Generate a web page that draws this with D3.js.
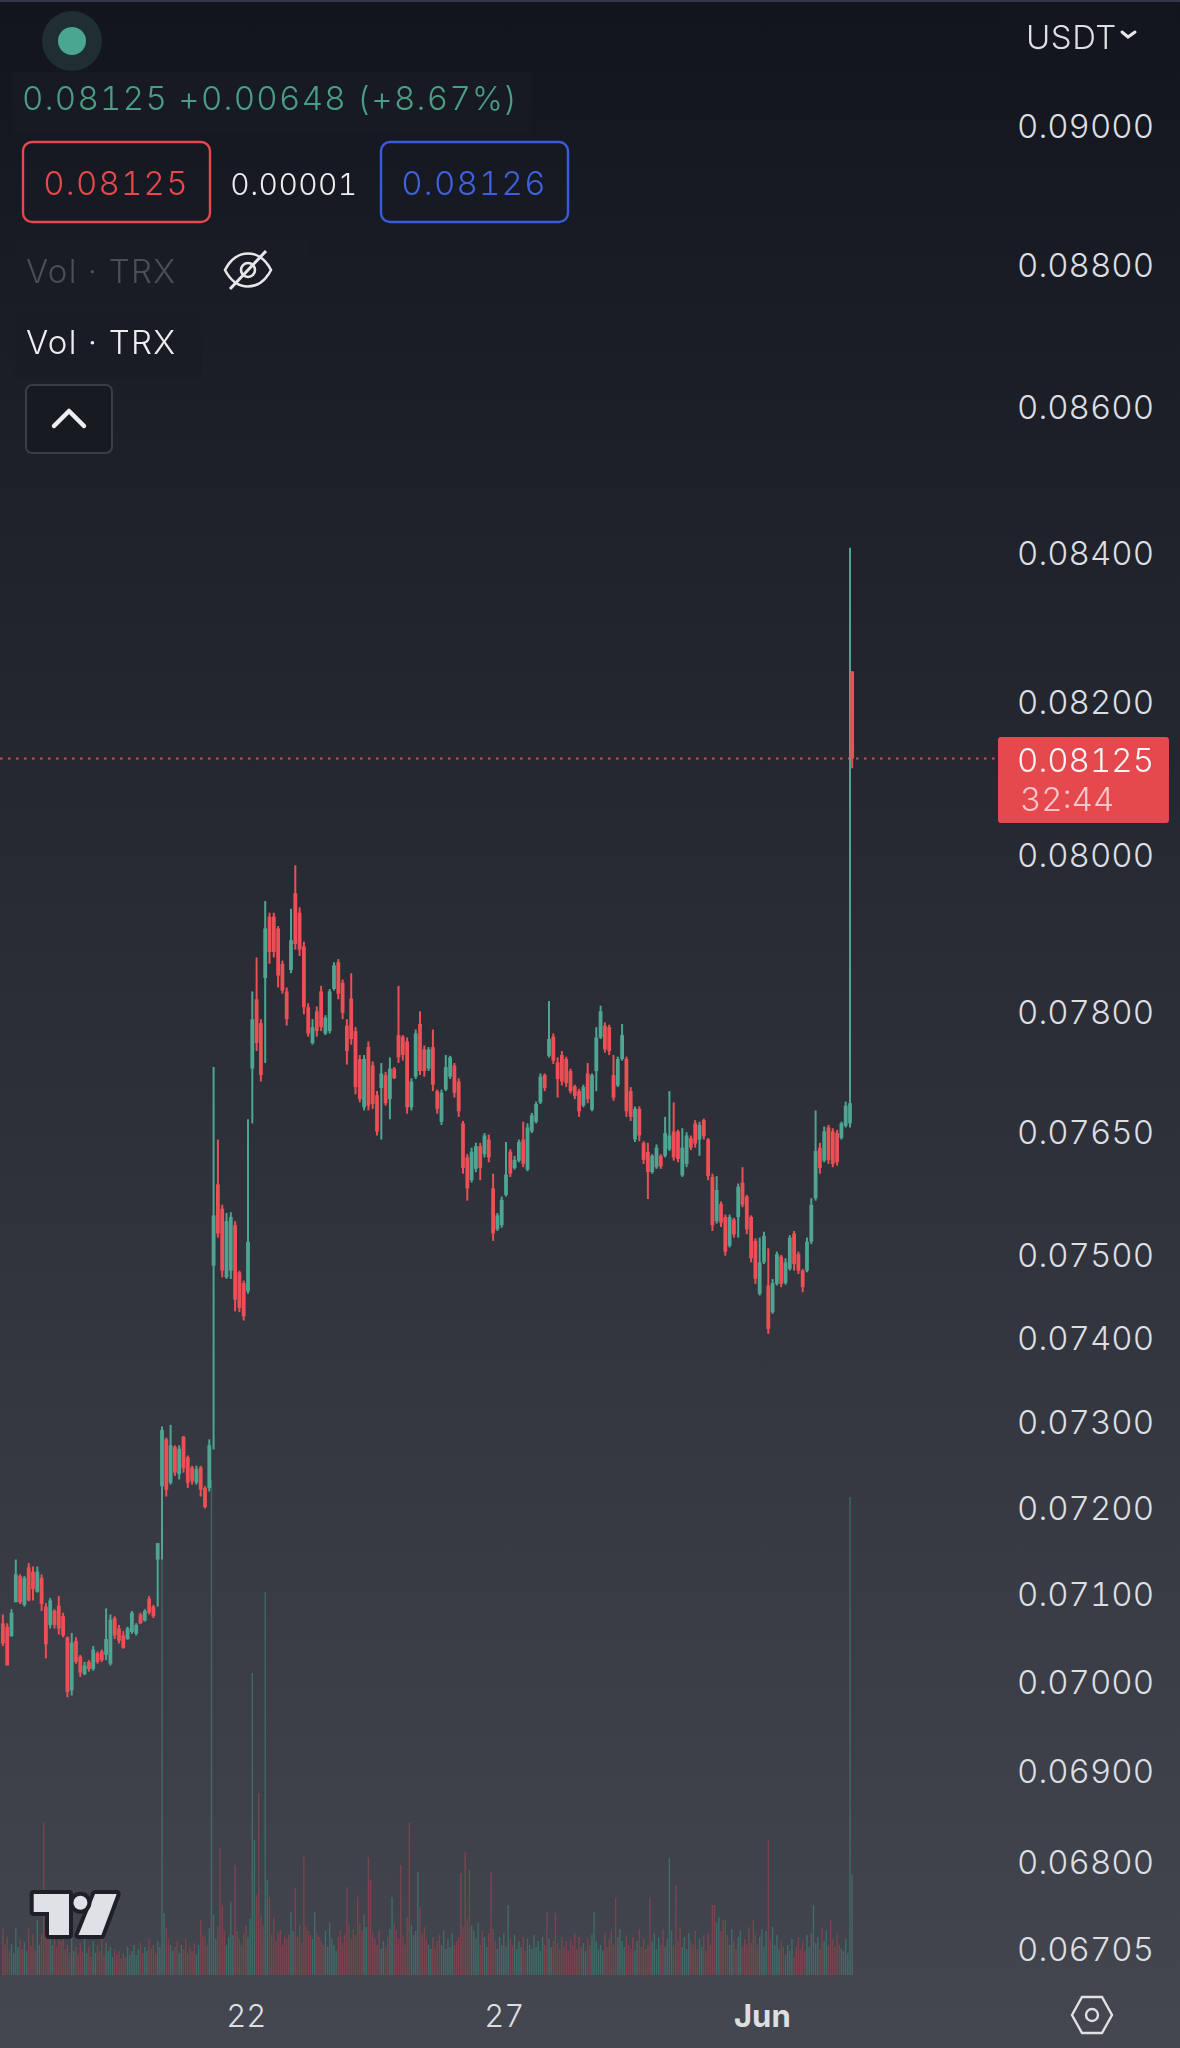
<!DOCTYPE html>
<html>
<head>
<meta charset="utf-8">
<script src="https://cdn.jsdelivr.net/npm/d3@7"></script>
<style>
  html, body { margin: 0; padding: 0; background: #12151d; }
  svg { display: block; }
  text { font-family: Inter, "Noto Sans", sans-serif; font-variant-numeric: tabular-nums; font-weight: 350; }
</style>
</head>
<body>
<svg id="chart" width="1180" height="2048"></svg>
<script>
// prices are kept in ticks of 0.00001 USDT, one candle every 2 hours
const tickSize = 0.00001;

const opens = [
  7066,7062,7051,7090,7120,7087,7130,7125,7102,7118,
  7085,7064,7080,7086,7074,7050,6990,7046,7028,7008,
  7022,7014,7032,7034,7030,7020,7072,7060,7052,7048,
  7056,7054,7076,7069,7094,7085,7139,7224,7279,7228,
  7270,7238,7282,7258,7246,7228,7246,7222,7222,7486,
  7585,7555,7472,7480,7535,7478,7465,7455,7728,7815,
  7785,7842,7920,7920,7905,7860,7825,7852,7950,7925,
  7882,7805,7760,7800,7825,7772,7775,7828,7862,7836,
  7782,7816,7775,7740,7680,7755,7732,7695,7704,7720,
  7690,7728,7770,7768,7762,7680,7718,7784,7752,7728,
  7755,7700,7662,7702,7718,7732,7712,7660,7618,7590,
  7604,7632,7622,7640,7580,7530,7535,7572,7625,7605,
  7614,7640,7603,7650,7662,7686,7720,7744,7768,7736,
  7745,7740,7725,7706,7700,7682,7722,7677,7725,7767,
  7782,7780,7720,7707,7740,7740,7700,7640,7678,7636,
  7625,7600,7606,7620,7620,7628,7650,7650,7596,7610,
  7642,7660,7640,7664,7640,7594,7540,7561,7545,7510,
  7542,7545,7587,7570,7545,7516,7452,7490,7462,7430,
  7464,7497,7465,7482,7525,7500,7480,7480,7515,7568,
  7630,7614,7655,7650,7648,7642,7657,7660,8240
];
const closes = [
  7043,7018,7078,7122,7090,7118,7092,7105,7125,7088,
  7042,7092,7064,7060,7052,6988,7044,7022,7010,7018,
  7014,7036,7022,7024,7048,7070,7052,7046,7038,7060,
  7078,7064,7066,7080,7078,7074,7158,7290,7220,7272,
  7240,7268,7245,7228,7230,7244,7220,7200,7272,7547,
  7525,7480,7540,7545,7445,7435,7425,7515,7790,7760,
  7720,7905,7875,7875,7845,7826,7790,7890,7885,7878,
  7805,7772,7780,7775,7780,7792,7825,7858,7822,7798,
  7750,7765,7705,7690,7740,7682,7684,7650,7722,7685,
  7728,7716,7742,7745,7680,7712,7772,7725,7725,7752,
  7708,7678,7698,7730,7742,7698,7675,7605,7580,7625,
  7632,7605,7645,7618,7525,7547,7566,7597,7598,7615,
  7637,7610,7655,7670,7684,7718,7704,7765,7738,7715,
  7712,7710,7700,7694,7675,7705,7690,7720,7767,7800,
  7752,7750,7692,7740,7770,7675,7668,7678,7645,7615,
  7600,7620,7630,7607,7648,7645,7618,7616,7630,7645,
  7630,7635,7658,7644,7595,7535,7578,7538,7503,7545,
  7524,7582,7560,7530,7495,7470,7490,7522,7410,7465,
  7500,7464,7490,7520,7488,7480,7460,7515,7560,7626,
  7605,7650,7615,7610,7612,7660,7682,7685,8125
];
const highs = [
  7076,7066,7082,7139,7122,7120,7135,7131,7131,7122,
  7089,7095,7082,7097,7078,7051,7055,7050,7030,7022,
  7024,7040,7034,7036,7083,7076,7074,7064,7057,7062,
  7080,7066,7078,7082,7097,7087,7158,7294,7281,7296,
  7272,7272,7283,7260,7248,7248,7248,7224,7279,7730,
  7640,7560,7550,7551,7540,7480,7468,7665,7825,7868,
  7790,7940,7925,7925,7908,7864,7830,7930,7986,7932,
  7888,7810,7790,7806,7832,7795,7828,7862,7866,7840,
  7790,7848,7780,7745,7745,7762,7737,7700,7735,7724,
  7742,7730,7832,7770,7767,7716,7777,7800,7757,7755,
  7777,7702,7702,7745,7744,7735,7716,7663,7622,7630,
  7636,7636,7648,7646,7598,7550,7570,7637,7628,7620,
  7640,7662,7660,7673,7687,7722,7722,7813,7772,7742,
  7750,7743,7728,7708,7703,7708,7735,7722,7780,7807,
  7786,7783,7745,7743,7784,7743,7705,7681,7681,7638,
  7636,7622,7634,7622,7668,7700,7686,7652,7654,7649,
  7645,7664,7662,7666,7642,7598,7595,7564,7548,7548,
  7544,7586,7606,7572,7547,7519,7520,7527,7507,7470,
  7503,7499,7495,7523,7528,7503,7482,7520,7568,7676,
  7636,7656,7658,7654,7652,7662,7687,8406,8240
];
const lows = [
  7040,7018,7051,7090,7088,7085,7091,7092,7101,7080,
  7026,7060,7060,7053,7050,6982,6984,7020,7005,7007,
  7011,7012,7020,7022,7024,7018,7048,7043,7037,7047,
  7054,7052,7065,7068,7076,7072,7085,7139,7212,7226,
  7236,7232,7240,7222,7226,7226,7212,7198,7218,7267,
  7520,7472,7470,7470,7431,7430,7420,7452,7660,7750,
  7712,7735,7860,7868,7830,7822,7782,7848,7878,7870,
  7796,7768,7758,7768,7775,7770,7772,7826,7815,7790,
  7733,7758,7696,7686,7676,7676,7678,7645,7640,7682,
  7665,7715,7735,7738,7672,7676,7715,7720,7718,7725,
  7700,7672,7658,7700,7715,7692,7668,7598,7565,7587,
  7600,7590,7618,7612,7516,7528,7532,7570,7594,7603,
  7612,7606,7601,7648,7660,7684,7700,7742,7734,7692,
  7707,7705,7697,7690,7668,7680,7685,7675,7700,7765,
  7748,7745,7688,7705,7738,7668,7663,7637,7638,7610,
  7567,7598,7604,7604,7618,7626,7614,7612,7594,7606,
  7627,7630,7620,7640,7590,7528,7537,7533,7498,7508,
  7520,7520,7557,7524,7490,7464,7450,7488,7404,7428,
  7462,7460,7463,7480,7480,7476,7454,7478,7512,7565,
  7598,7612,7610,7606,7608,7640,7655,7655,8112
];
// hourly volume, arbitrary units
const volumes = [
  47,30,38,24,31,22,47,28,35,26,33,24,47,29,41,25,55,30,42,152,
  44,36,48,30,46,28,43,34,40,26,30,22,38,24,28,20,32,24,36,22,
  28,18,34,22,30,24,36,20,32,24,28,18,26,20,24,16,22,18,28,20,
  24,30,20,26,32,22,28,24,36,26,30,22,34,28,485,62,47,36,30,24,
  28,34,22,30,26,36,22,28,24,32,20,30,55,40,38,30,47,495,60,36,
  48,127,70,44,30,38,73,40,110,44,36,30,42,50,38,56,302,135,80,182,
  60,50,383,95,78,40,58,34,42,45,30,38,36,40,63,44,87,38,50,32,
  118,48,44,40,36,63,42,38,34,30,44,28,52,36,30,24,38,44,32,40,
  88,50,36,46,40,78,52,44,60,48,118,95,42,36,30,44,26,34,28,38,
  46,78,52,44,36,110,40,30,58,152,50,40,44,103,68,42,48,36,30,26,
  38,28,34,40,30,44,26,36,28,42,30,34,38,102,48,123,56,105,50,44,
  36,52,30,44,38,28,42,103,46,34,26,38,30,42,28,70,36,30,40,26,
  34,28,38,24,36,30,26,40,28,34,24,38,30,63,36,28,34,62,32,26,
  38,28,34,24,36,30,42,26,38,28,32,24,36,30,40,63,34,26,30,24,
  42,28,36,44,30,77,38,46,34,28,40,30,26,38,24,34,46,28,36,26,
  30,78,34,42,26,38,30,46,28,36,117,44,30,90,34,48,28,38,26,42,
  34,30,44,26,36,28,40,24,42,30,70,70,52,58,44,55,55,40,30,46,
  34,26,38,44,28,36,30,48,32,55,40,30,38,46,28,44,135,36,48,30,
  40,26,34,28,20,30,24,36,18,28,38,26,34,24,40,28,42,70,32,38,
  26,47,34,44,30,55,36,28,42,30,26,24,36,22,478,100
];
const priceTicks = [0.09, 0.088, 0.086, 0.084, 0.082, 0.08, 0.078, 0.0765, 0.075, 0.074,
  0.073, 0.072, 0.071, 0.07, 0.069, 0.068, 0.06705];
const timeTickHours = [113, 233, 353];
const timeTickLabels = ["22", "27", "Jun"];
const lastPrice = 0.08125;

const up = "#4da592", down = "#ec4f54";

const svg = d3.select("#chart");
const defs = svg.append("defs");
const grad = defs.append("linearGradient").attr("id", "bg")
  .attr("x1", 0).attr("y1", 0).attr("x2", 0).attr("y2", 1);
grad.append("stop").attr("offset", 0).attr("stop-color", "#12151d");
grad.append("stop").attr("offset", 1).attr("stop-color", "#44474f");
svg.append("rect").attr("width", 1180).attr("height", 2048).attr("fill", "url(#bg)");
svg.append("rect").attr("width", 1180).attr("height", 2).attr("fill", "#34374a");

// the screenshot is soft, a small blur gives the same blended candles
defs.append("filter").attr("id", "soft")
  .attr("x", "-5%").attr("y", "-5%").attr("width", "110%").attr("height", "110%")
  .append("feGaussianBlur").attr("stdDeviation", 0.75);

const x = d3.scaleLinear().domain([0, 395]).range([2.9, 852.15]);
const y = d3.scaleLog().domain([0.06705, 0.09]).range([1948, 125]);
const yVol = d3.scaleLinear().domain([0, 500]).range([1975, 1475]);

// the candles sit on the hour grid, the running one is an hour after the spike
const candleHours = closes.map((c, i) => i === closes.length - 1 ? 395 : i * 2);
const candleIndex = d3.range(closes.length);
const isUp = i => closes[i] >= opens[i];

// Volume bars
const candleOfHour = h => Math.min(Math.floor(h / 2), closes.length - 2);
svg.append("g").attr("filter", "url(#soft)").selectAll("rect")
  .data(volumes)
  .enter().append("rect")
  .attr("x", (d, h) => x(h) - 0.7)
  .attr("width", 1.4)
  .attr("y", d => yVol(d))
  .attr("height", d => yVol(0) - yVol(d))
  .attr("fill", (d, h) => h === 395 ? "#62727a" : (isUp(candleOfHour(h)) ? "#3f857d" : "#a2444f"))
  .attr("opacity", 0.6);

// Last price line
svg.append("line")
  .attr("x1", 0).attr("x2", 998)
  .attr("y1", y(lastPrice)).attr("y2", y(lastPrice))
  .attr("stroke", "#d24a50").attr("stroke-width", 2)
  .attr("stroke-dasharray", "2.5 5.5");

// Candles
const candles = svg.append("g").attr("filter", "url(#soft)");
candles.selectAll("line")
  .data(candleIndex)
  .enter().append("line")
  .attr("x1", i => x(candleHours[i])).attr("x2", i => x(candleHours[i]))
  .attr("y1", i => y(highs[i] * tickSize)).attr("y2", i => y(lows[i] * tickSize))
  .attr("stroke", i => isUp(i) ? up : down)
  .attr("stroke-width", 2);
candles.selectAll("rect")
  .data(candleIndex)
  .enter().append("rect")
  .attr("x", i => x(candleHours[i]) - 1.9)
  .attr("width", 3.8)
  .attr("y", i => y(Math.max(opens[i], closes[i]) * tickSize))
  .attr("height", i => Math.max(1, y(Math.min(opens[i], closes[i]) * tickSize) - y(Math.max(opens[i], closes[i]) * tickSize)))
  .attr("fill", i => isUp(i) ? up : down);

// Axes
const yAxis = svg.append("g")
  .attr("transform", "translate(1154,0)")
  .call(d3.axisRight(y).tickValues(priceTicks).tickSize(0).tickFormat(d3.format(".5f")));
yAxis.select(".domain").remove();
yAxis.selectAll("text")
  .attr("x", 0).attr("dy", "0.37em")
  .attr("text-anchor", "end")
  .attr("font-family", "Inter, sans-serif")
  .attr("font-size", 33)
  .attr("fill", "#dcdee2");

const xAxis = svg.append("g")
  .attr("transform", "translate(0,2027)")
  .call(d3.axisBottom(x).tickValues(timeTickHours).tickSize(0).tickFormat((d, i) => timeTickLabels[i]));
xAxis.select(".domain").remove();
xAxis.selectAll("text")
  .attr("y", 0).attr("dy", 0)
  .attr("font-family", "Inter, sans-serif")
  .attr("font-size", 31)
  .style("font-weight", (d, i) => timeTickLabels[i] === "Jun" ? 700 : 350)
  .attr("fill", "#dcdee2");

function label(txt, px, py, size, fill, anchor, spacing) {
  return svg.append("text")
    .attr("x", px).attr("y", py)
    .attr("font-size", size)
    .attr("fill", fill)
    .attr("text-anchor", anchor || "start")
    .attr("letter-spacing", spacing || 0)
    .text(txt);
}

// Price tag
svg.append("rect")
  .attr("x", 998).attr("y", 737).attr("width", 171).attr("height", 86).attr("rx", 3)
  .attr("fill", "#e5484d");
label(d3.format(".5f")(lastPrice), 1154, 772, 33, "#f6f6f6", "end");
label("32:44", 1020, 811, 33, "#f7c6c8");

// Header
svg.append("rect").attr("x", 12).attr("y", 72).attr("width", 520).attr("height", 60).attr("fill", "#171a22");
svg.append("rect").attr("x", 15).attr("y", 240).attr("width", 293).attr("height", 63).attr("fill", "#191c24");
svg.append("rect").attr("x", 15).attr("y", 312).attr("width", 187).attr("height", 65).attr("fill", "#191c24");
svg.append("rect").attr("x", 1000).attr("y", 2).attr("width", 176).attr("height", 78).attr("fill", "#13161e");

svg.append("circle").attr("cx", 72).attr("cy", 41).attr("r", 30).attr("fill", "#1f2e30");
svg.append("circle").attr("cx", 72).attr("cy", 41).attr("r", 14).attr("fill", "#4aa68f");
label("0.08125  +0.00648 (+8.67%)", 22, 110, 33, "#4a9e85", "start", 1.3);

svg.append("rect").attr("x", 23).attr("y", 142).attr("width", 187).attr("height", 80).attr("rx", 9)
  .attr("fill", "none").attr("stroke", "#e5484d").attr("stroke-width", 2.4);
label("0.08125", 116, 195, 33, "#e5484d", "middle", 1.2);
label("0.00001", 294, 195, 30, "#eceef0", "middle", 0.4);
svg.append("rect").attr("x", 381).attr("y", 142).attr("width", 187).attr("height", 80).attr("rx", 9)
  .attr("fill", "none").attr("stroke", "#3a5bdc").attr("stroke-width", 2.4);
label("0.08126", 474, 195, 33, "#3f61dd", "middle", 1.2);

label("Vol · TRX", 26, 283, 33, "#4b4e56", "start", 1.3);
label("Vol · TRX", 26, 354, 33, "#eceef0", "start", 1.3);

// Eye icon
const eye = svg.append("g").attr("transform", "translate(248,270)")
  .attr("fill", "none").attr("stroke", "#e6e7ea").attr("stroke-width", 2.6);
eye.append("path").attr("d", "M-23,0 C-12,-22 12,-22 23,0 C12,22 -12,22 -23,0 Z");
eye.append("circle").attr("r", 7);
eye.append("line").attr("x1", -18).attr("y1", 19).attr("x2", 18).attr("y2", -19).attr("stroke-width", 3);

// Chevron button
svg.append("rect").attr("x", 26).attr("y", 385).attr("width", 86).attr("height", 68).attr("rx", 6)
  .attr("fill", "#181a22").attr("stroke", "#3a3d46").attr("stroke-width", 2);
svg.append("path").attr("d", "M54,426 L69,411 L84,426").attr("fill", "none")
  .attr("stroke", "#eceef0").attr("stroke-width", 4.5).attr("stroke-linecap", "round").attr("stroke-linejoin", "round");

// Currency
label("USDT", 1026, 49, 33, "#dcdee2", "start", 0.5);
svg.append("path").attr("d", "M1122,32 L1128,37 L1135,32").attr("fill", "none")
  .attr("stroke", "#e6e7ea").attr("stroke-width", 3).attr("stroke-linecap", "round");

// Logo
const logo = svg.append("g");
const logoStyle = sel => sel.attr("fill", "#dfe1e6").attr("stroke", "#1e2027").attr("stroke-width", 8)
  .attr("stroke-linejoin", "round").attr("paint-order", "stroke");
logo.append("path").attr("d", "M33.7,1894 L69,1894 L69,1935 L49,1935 L49,1912 L33.7,1912 Z").call(logoStyle);
logo.append("path").attr("d", "M95,1894 L116.7,1894 L101.4,1935 L78.5,1935 Z").call(logoStyle);
logo.append("circle").attr("cx", 80.4).attr("cy", 1902.7).attr("r", 7).call(logoStyle);

// Settings hexagon
const gear = svg.append("g").attr("transform", "translate(1092,2015)")
  .attr("fill", "none").attr("stroke", "#e0e1e5").attr("stroke-width", 2.4);
gear.append("path").attr("d", "M-20,0 L-10,-18 L10,-18 L20,0 L10,18 L-10,18 Z");
gear.append("circle").attr("r", 6);
</script>
</body>
</html>
